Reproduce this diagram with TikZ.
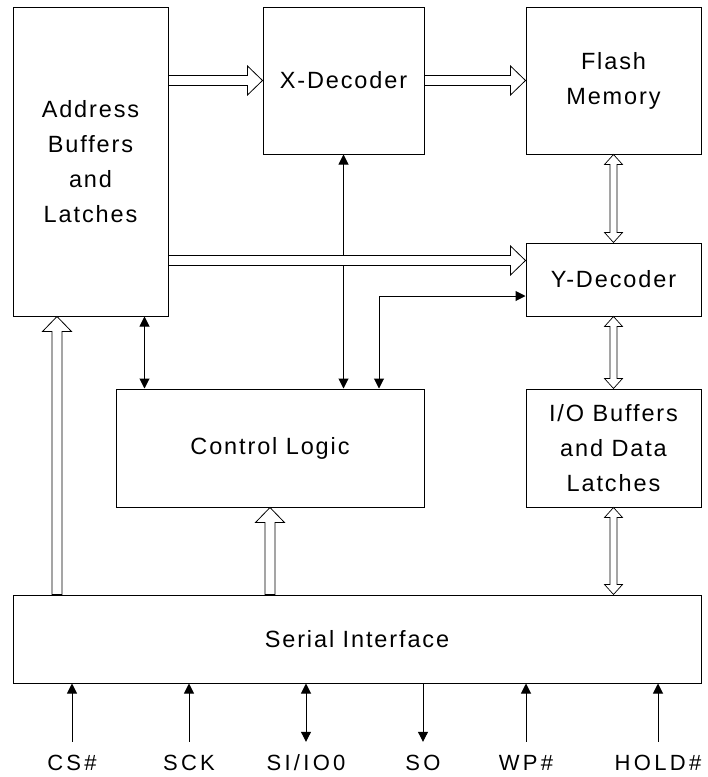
\documentclass[tikz,border=0pt]{standalone}
\usepackage{fontspec}
\setmainfont{Liberation Sans}[LetterSpace=8]
\newfontfamily\pinfont{Liberation Sans}[LetterSpace=15]
\usetikzlibrary{arrows.meta, calc}

\begin{document}
\begin{tikzpicture}[
    x=1pt, y=-1pt,
    >={Triangle[length=10pt, width=10pt]},
    block style/.style={draw, line width=1pt, align=center, inner sep=0pt, font=\fontsize{23.5}{35}\selectfont},
    pin style/.style={font=\pinfont\fontsize{22}{26}\selectfont, text height=16pt, text depth=4pt, inner xsep=0pt, inner ysep=12pt},
    signal style/.style={line width=1pt},
    bus style/.style={draw, fill=white, line width=0.8pt, to path={
        let \p1=(\tikztostart), \p2=(\tikztotarget), \n1={atan2(\y2-\y1,\x2-\x1)},
            \p3=($(\p2)!15pt!(\p1)$) in
        ($(\p1)+(\n1+90:5pt)$) -- ($(\p3)+(\n1+90:5pt)$) -- ($(\p3)+(\n1+90:14.5pt)$)
        -- (\p2) -- ($(\p3)+(\n1-90:14.5pt)$) -- ($(\p3)+(\n1-90:5pt)$)
        -- ($(\p1)+(\n1-90:5pt)$) -- cycle}},
    data bus style/.style={draw, fill=white, line width=0.7pt, to path={
        let \p1=(\tikztostart), \p2=(\tikztotarget), \n1={atan2(\y2-\y1,\x2-\x1)},
            \p3=($(\p2)!10pt!(\p1)$), \p4=($(\p1)!10pt!(\p2)$) in
        (\p1) -- ($(\p4)+(\n1+90:9pt)$) -- ($(\p4)+(\n1+90:3.5pt)$) -- ($(\p3)+(\n1+90:3.5pt)$)
        -- ($(\p3)+(\n1+90:9pt)$) -- (\p2) -- ($(\p3)+(\n1-90:9pt)$) -- ($(\p3)+(\n1-90:3.5pt)$)
        -- ($(\p4)+(\n1-90:3.5pt)$) -- ($(\p4)+(\n1-90:9pt)$) -- cycle}}
]

\useasboundingbox (0,0) rectangle (708,777);

% Draw the blocks
\node[block style, minimum width=155pt, minimum height=309pt] (addr) at (90.5,161.5) {Address\\Buffers\\and\\Latches};
\node[block style, minimum width=161pt, minimum height=147pt] (xdec) at (343.5,80.5) {X-Decoder};
\node[block style, minimum width=175pt, minimum height=147pt] (flash) at (613.5,80.5) {Flash\\Memory};
\node[block style, minimum width=175pt, minimum height=73pt] (ydec) at (613.5,279.5) {Y-Decoder};
\node[block style, minimum width=308pt, minimum height=118pt] (ctrl) at (270,448) {Control Logic};
\node[block style, minimum width=175pt, minimum height=118pt] (iobuf) at (613.5,448) {I/O Buffers\\and Data\\Latches};
\node[block style, minimum width=688pt, minimum height=88pt] (serial) at (357,639) {Serial Interface};

% Draw the pin labels
\node[pin style] (cs) at (72,764) {CS\#};
\node[pin style] (sck) at (189,764) {SCK};
\node[pin style] (si) at (306,764) {SI/IO0};
\node[pin style] (so) at (423,764) {SO};
\node[pin style] (wp) at (526,764) {WP\#};
\node[pin style] (hold) at (658,764) {HOLD\#};

% Control signals
\coordinate (actl) at ([xshift=29pt]ctrl.north west);
\coordinate (yctl) at ([yshift=-16.5pt]ydec.west);
\draw[signal style, <->] (xdec.south) -- (xdec.south |- ctrl.north);
\draw[signal style, <->] (actl |- addr.south) -- (actl);
\draw[signal style, <->] (yctl) -| ([xshift=109pt]ctrl.north);

% Address and data buses
\coordinate (ybus) at ([yshift=19pt]ydec.west);
\coordinate (sbus) at ([xshift=-33.5pt]addr.south);
\draw[bus style] (addr.east |- xdec.west) to (xdec.west);
\draw[bus style] (xdec.east) to (flash.west);
\draw[bus style] (addr.east |- ybus) to (ybus);
\draw[bus style] (sbus |- serial.north) to (sbus);
\draw[bus style] (ctrl.south |- serial.north) to (ctrl.south);
\draw[data bus style] (flash.south) to (ydec.north);
\draw[data bus style] (ydec.south) to (iobuf.north);
\draw[data bus style] (iobuf.south) to (iobuf.south |- serial.north);

% Pins to the serial interface
\draw[signal style, ->] (cs) -- (cs |- serial.south);
\draw[signal style, ->] (sck) -- (sck |- serial.south);
\draw[signal style, <->] (si) -- (si |- serial.south);
\draw[signal style, <-] (so) -- (so |- serial.south);
\draw[signal style, ->] (wp) -- (wp |- serial.south);
\draw[signal style, ->] (hold) -- (hold |- serial.south);
\end{tikzpicture}
\end{document}
